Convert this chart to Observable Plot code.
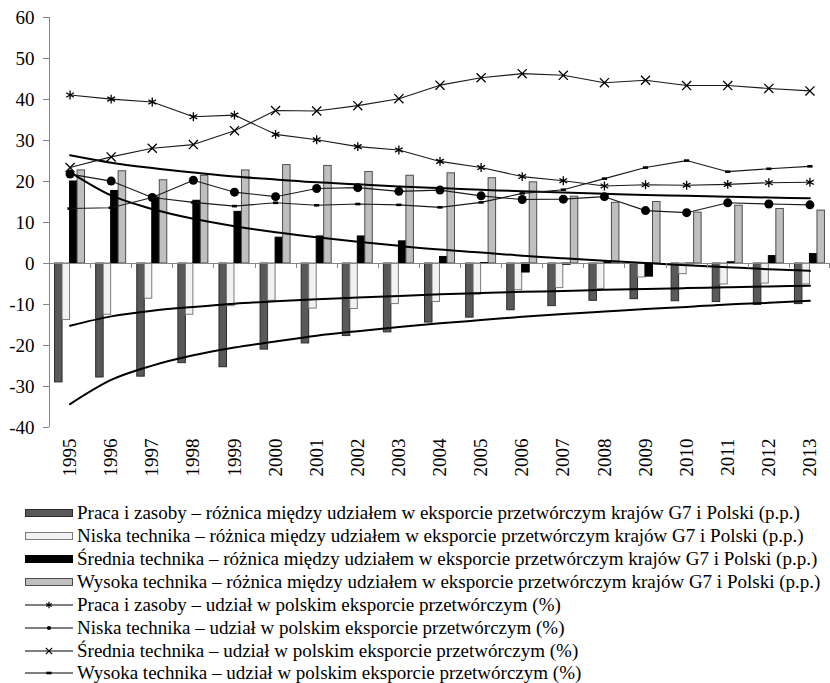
<!DOCTYPE html>
<html><head><meta charset="utf-8">
<script src="https://cdn.jsdelivr.net/npm/d3@7"></script>
<script src="https://cdn.jsdelivr.net/npm/@observablehq/plot@0.6"></script>
<style>
body{margin:0;background:#fff;font-family:'Liberation Serif','Times New Roman',serif;}
#chart svg{display:block}
.legend{padding-top:12px;font-size:19px;color:#000}
.row{display:flex;align-items:center;height:22.86px;padding-left:25px;white-space:nowrap}
.row svg{margin-right:4px;flex:none}
</style></head><body><div id="chart"></div><div class="legend" id="legend"></div><script>
const years = ["1995","1996","1997","1998","1999","2000","2001","2002","2003","2004","2005","2006","2007","2008","2009","2010","2011","2012","2013"];
const yTicks = [-40,-30,-20,-10,0,10,20,30,40,50,60];

// bars: difference between G7 and Poland shares (p.p.)
const pracaDiff  = [-29.0,-27.8,-27.6,-24.3,-25.3,-21.0,-19.5,-17.7,-16.8,-14.4,-13.2,-11.4,-10.4,-9.1,-8.7,-9.2,-9.4,-10.1,-9.9];
const niskaDiff  = [-13.8,-12.5,-8.6,-12.5,-10.4,-9.1,-11.0,-11.1,-9.9,-9.4,-7.6,-6.5,-6.0,-6.2,-3.4,-2.6,-5.1,-4.9,-5.1];
const srednDiff  = [20.0,17.7,16.1,15.3,12.6,6.3,6.6,6.6,5.4,1.6,0.1,-2.2,-0.3,0.3,-3.2,-0.2,0.3,1.8,2.3];
const wysokaDiff = [22.7,22.5,20.3,21.4,22.7,24.0,23.8,22.3,21.4,22.0,20.8,19.8,16.3,14.8,15.0,12.4,14.1,13.3,12.9];

// lines: share in Polish manufacturing exports (%)
const pracaShare  = [41.1,40.1,39.4,35.8,36.2,31.5,30.2,28.5,27.7,24.9,23.4,21.2,20.2,18.9,19.2,19.1,19.3,19.7,19.8];
const niskaShare  = [21.8,20.1,16.1,20.3,17.4,16.3,18.3,18.5,17.6,17.9,16.5,15.6,15.7,16.3,12.9,12.4,14.8,14.5,14.3];
const srednShare  = [23.4,26.0,28.1,29.0,32.4,37.3,37.2,38.5,40.2,43.5,45.3,46.3,45.9,44.1,44.7,43.4,43.4,42.7,42.1];
const wysokaShare = [13.4,13.6,16.1,14.9,14.0,14.8,14.2,14.5,14.3,13.7,14.9,17.1,18.0,20.7,23.4,25.1,22.4,23.1,23.7];

// trend lines
const trendA = [26.4,24.6,23.3,22.2,21.2,20.5,19.8,19.3,18.8,18.4,18.0,17.6,17.3,17.0,16.7,16.5,16.3,16.1,15.9];
const trendB = [22.3,16.6,13.3,10.9,9.1,7.6,6.4,5.3,4.3,3.4,2.7,1.9,1.3,0.7,0.1,-0.4,-0.9,-1.4,-1.8];
const trendC = [-15.2,-12.9,-11.5,-10.6,-9.8,-9.2,-8.7,-8.3,-7.9,-7.5,-7.2,-6.9,-6.7,-6.4,-6.2,-6.0,-5.8,-5.6,-5.4];
const trendD = [-34.3,-28.4,-24.9,-22.4,-20.5,-19.0,-17.6,-16.5,-15.5,-14.6,-13.8,-13.0,-12.3,-11.7,-11.1,-10.6,-10.0,-9.6,-9.1];

const barLabels = [
  "Praca i zasoby – różnica między udziałem w eksporcie przetwórczym krajów G7 i Polski (p.p.)",
  "Niska technika – różnica między udziałem w eksporcie przetwórczym krajów G7 i Polski (p.p.)",
  "Średnia technika – różnica między udziałem w eksporcie przetwórczym krajów G7 i Polski (p.p.)",
  "Wysoka technika – różnica między udziałem w eksporcie przetwórczym krajów G7 i Polski (p.p.)"
];
const lineLabels = [
  "Praca i zasoby – udział w polskim eksporcie przetwórczym (%)",
  "Niska technika – udział w polskim eksporcie przetwórczym (%)",
  "Średnia technika – udział w polskim eksporcie przetwórczym (%)",
  "Wysoka technika – udział w polskim eksporcie przetwórczym (%)"
];

const W = 830, H = 490, mL = 49, mR = 0, mT = 17, mB = 63;
const bw = (W - mL - mR) / years.length;
const barW = 7.5;
const toRows = vals => years.map((y, i) => ({year: y, v: vals[i]}));

const barStyles = [
  {fill: "#595959", stroke: "#2b2b2b"},
  {fill: "#f2f2f2", stroke: "#7a7a7a"},
  {fill: "#000000", stroke: "#000000"},
  {fill: "#bfbfbf", stroke: "#4d4d4d"}
];
const barSeries = [pracaDiff, niskaDiff, srednDiff, wysokaDiff];

const dashSymbol = {draw(ctx, size) { ctx.rect(-2.6, -1.3, 5.2, 2.6); }};
const lineSeries = [
  {vals: pracaShare, sym: "asterisk", r: 4.2, fill: "none", stroke: "#000"},
  {vals: niskaShare, sym: "circle", r: 4.5, fill: "#000", stroke: "none"},
  {vals: srednShare, sym: "times", r: 4.2, fill: "none", stroke: "#000"},
  {vals: wysokaShare, sym: dashSymbol, r: 3, fill: "#000", stroke: "none"}
];

const marks = [];
barSeries.forEach((vals, k) => {
  const left = bw / 2 + (k - 2) * barW;
  marks.push(Plot.barY(toRows(vals), {
    x: "year", y: "v", fill: barStyles[k].fill, stroke: barStyles[k].stroke, strokeWidth: 1,
    insetLeft: left, insetRight: bw - left - barW
  }));
});
marks.push(Plot.ruleY([0], {stroke: "#868686", strokeWidth: 1}));
[trendA, trendB, trendC, trendD].forEach(t => {
  marks.push(Plot.line(toRows(t), {x: "year", y: "v", stroke: "#000", strokeWidth: 2, curve: "monotone-x"}));
});
lineSeries.forEach(s => {
  marks.push(Plot.line(toRows(s.vals), {x: "year", y: "v", stroke: "#1a1a1a", strokeWidth: 1.1}));
  marks.push(Plot.dot(toRows(s.vals), {x: "year", y: "v", symbol: s.sym, r: s.r, fill: s.fill, stroke: s.stroke, strokeWidth: 1.3}));
});
marks.push(Plot.axisY({ticks: yTicks, tickSize: 6, tickPadding: 9, tickFormat: d => String(d), stroke: "#868686", fill: "#000", fontSize: 19}));
marks.push(Plot.axisX({tickRotate: -90, tickSize: 0, tickPadding: 11, fontSize: 19, fill: "#000"}));

const chart = Plot.plot({
  width: W, height: H, marginLeft: mL, marginRight: mR, marginTop: mT, marginBottom: mB,
  style: {fontFamily: "'Liberation Serif','Times New Roman',serif", fontSize: "19px", background: "#fff", color: "#000"},
  x: {type: "band", domain: years, padding: 0, round: false, label: null},
  y: {domain: [-40, 60], label: null},
  marks
});

// y-axis line and x-axis category ticks on the zero line
const sx = chart.scale("x"), sy = chart.scale("y");
const svg = d3.select(chart);
const g = svg.append("g").attr("stroke", "#868686").attr("stroke-width", 1);
g.append("line").attr("x1", mL + 0.5).attr("x2", mL + 0.5).attr("y1", sy.apply(60)).attr("y2", sy.apply(-40));
years.slice(1).forEach(y => {
  const x = Math.round(sx.apply(y)) + 0.5;
  g.append("line").attr("x1", x).attr("x2", x).attr("y1", sy.apply(0)).attr("y2", sy.apply(0) + 5);
});
g.append("line").attr("x1", W - 0.5).attr("x2", W - 0.5).attr("y1", sy.apply(0)).attr("y2", sy.apply(0) + 5);
document.getElementById("chart").append(chart);

// legend
const legend = d3.select("#legend");
barLabels.forEach((lab, k) => {
  const row = legend.append("div").attr("class", "row");
  const s = row.append("svg").attr("width", 48).attr("height", 12);
  s.append("rect").attr("x", 0.5).attr("y", 2.5).attr("width", 47).attr("height", 7)
    .attr("fill", barStyles[k].fill).attr("stroke", barStyles[k].stroke);
  row.append("span").text(lab);
});
lineLabels.forEach((lab, k) => {
  const row = legend.append("div").attr("class", "row");
  const s = row.append("svg").attr("width", 48).attr("height", 12);
  s.append("line").attr("x1", 0).attr("x2", 48).attr("y1", 6).attr("y2", 6).attr("stroke", "#000").attr("stroke-width", 1.1);
  const st = lineSeries[k];
  const sym = typeof st.sym === "string" ? {asterisk: d3.symbolAsterisk, circle: d3.symbolCircle, times: d3.symbolTimes}[st.sym] : st.sym;
  const size = k === 1 ? 14 : 28;
  s.append("path").attr("transform", "translate(24,6)").attr("d", d3.symbol(sym, size)())
    .attr("fill", st.fill).attr("stroke", st.stroke).attr("stroke-width", 1.2);
  row.append("span").text(lab);
});
</script></body></html>
